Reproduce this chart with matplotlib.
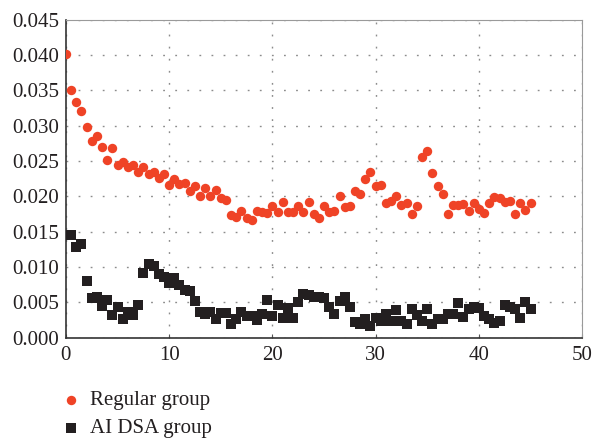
import numpy as np
import matplotlib.pyplot as plt

plt.rcParams['font.family'] = ['Liberation Serif', 'DejaVu Serif']
plt.rcParams['lines.scale_dashes'] = False

# sampled every half unit from 0 to 45
x = np.arange(0, 45.5, 0.5)

regular = [
    0.0401, 0.0351, 0.0333, 0.0321, 0.0298, 0.0279, 0.0286, 0.0270, 0.0252, 0.0269,
    0.0245, 0.0248, 0.0241, 0.0244, 0.0234, 0.0241, 0.0232, 0.0235, 0.0226, 0.0232,
    0.0216, 0.0225, 0.0217, 0.0219, 0.0208, 0.0214, 0.0201, 0.0212, 0.0200, 0.0209,
    0.0197, 0.0195, 0.0174, 0.0171, 0.0179, 0.0170, 0.0167, 0.0179, 0.0178, 0.0177,
    0.0186, 0.0178, 0.0192, 0.0178, 0.0178, 0.0186, 0.0178, 0.0192, 0.0175, 0.0170,
    0.0187, 0.0178, 0.0180, 0.0200, 0.0185, 0.0186, 0.0208, 0.0203, 0.0224, 0.0234,
    0.0214, 0.0216, 0.0191, 0.0193, 0.0200, 0.0188, 0.0190, 0.0175, 0.0186, 0.0256,
    0.0264, 0.0233, 0.0214, 0.0203, 0.0175, 0.0188, 0.0188, 0.0189, 0.0180, 0.0191,
    0.0182, 0.0177, 0.0191, 0.0199, 0.0197, 0.0192, 0.0193, 0.0175, 0.0191, 0.0181,
    0.0190,
]

ai_dsa = [
    0.0145, 0.0146, 0.0128, 0.0132, 0.0080, 0.0056, 0.0058, 0.0045, 0.0054, 0.0032,
    0.0043, 0.0027, 0.0036, 0.0032, 0.0046, 0.0091, 0.0104, 0.0101, 0.0090, 0.0086,
    0.0077, 0.0084, 0.0075, 0.0068, 0.0066, 0.0052, 0.0036, 0.0034, 0.0037, 0.0026,
    0.0035, 0.0035, 0.0020, 0.0026, 0.0036, 0.0031, 0.0031, 0.0025, 0.0033, 0.0053,
    0.0031, 0.0046, 0.0028, 0.0042, 0.0028, 0.0050, 0.0062, 0.0061, 0.0057, 0.0057,
    0.0056, 0.0044, 0.0033, 0.0052, 0.0057, 0.0044, 0.0022, 0.0020, 0.0026, 0.0017,
    0.0028, 0.0024, 0.0034, 0.0024, 0.0039, 0.0024, 0.0019, 0.0041, 0.0032, 0.0023,
    0.0040, 0.0019, 0.0026, 0.0026, 0.0034, 0.0034, 0.0049, 0.0029, 0.0040, 0.0043,
    0.0042, 0.0031, 0.0026, 0.0021, 0.0024, 0.0046, 0.0044, 0.0040, 0.0028, 0.0050,
    0.0040,
]

fig = plt.figure(figsize=(5.94, 4.38), dpi=100)
ax = fig.add_axes([0.111, 0.229, 0.869, 0.726])

ax.scatter(x, regular, s=46, marker='o', color='#EF4326', linewidths=0,
           label='Regular group', zorder=3)
ax.scatter(x, ai_dsa, s=44, marker='s', color='#231F20', linewidths=0,
           label='AI DSA group', zorder=3)

ax.set_xlim(0, 50)
ax.set_ylim(0, 0.045)
ax.set_xticks(range(0, 51, 10))
ax.set_yticks(np.arange(0, 0.0451, 0.005))
ax.yaxis.set_major_formatter(plt.FormatStrFormatter('%.3f'))

ax.grid(True, color='#8c8c8c', linestyle=(0, (1.3, 7.4)), linewidth=1.0)
ax.set_axisbelow(True)

for side in ['top', 'right']:
    ax.spines[side].set_color('#9a9a9a')
    ax.spines[side].set_linewidth(0.8)
for side in ['left', 'bottom']:
    ax.spines[side].set_color('#333333')
    ax.spines[side].set_linewidth(1.2)

ax.tick_params(direction='in', length=3, width=0.8, color='#555555',
               labelsize=15, labelcolor='#231F20')
ax.tick_params(axis='y', pad=5, length=0)
ax.tick_params(axis='x', pad=6)

ax.legend(loc='upper left', bbox_to_anchor=(-0.03, -0.14), frameon=False,
          fontsize=15, handletextpad=0.3, labelspacing=0.42,
          borderaxespad=0, handlelength=1.2, labelcolor='#231F20')

fig.savefig('out.png', dpi=100)
